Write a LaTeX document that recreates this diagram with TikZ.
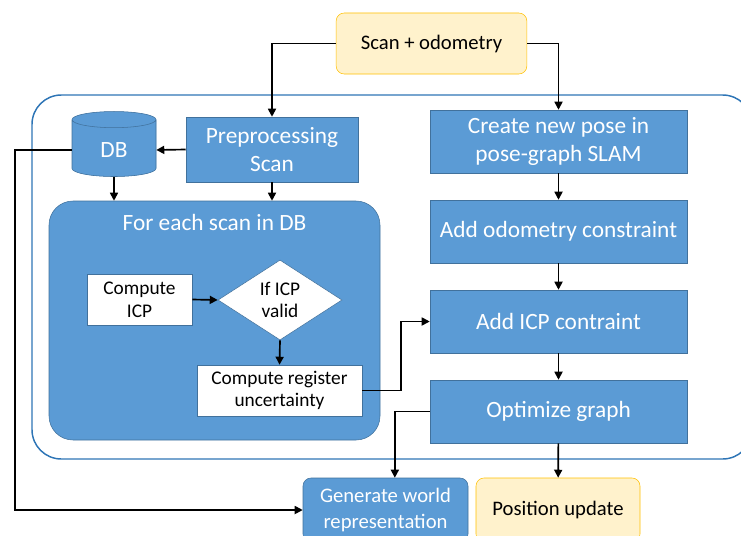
\documentclass[tikz,border=0pt]{standalone}
\usepackage{fontspec}
\setmainfont{Carlito}
\usepackage{tikz}
\usetikzlibrary{arrows.meta,positioning,shapes,calc}
\definecolor{boxblue}{HTML}{5B9BD5}
\definecolor{boxedge}{HTML}{41719C}
\definecolor{frameblue}{HTML}{2E75B6}
\definecolor{dbtop}{HTML}{9DC3E6}
\definecolor{ioyellow}{HTML}{FFF2CC}
\definecolor{ioedge}{HTML}{FFC000}
\tikzset{%
  process/.style={%
    rectangle,
    draw=boxedge,
    fill=boxblue,
    text=white,
    align=center,
    font=\fontsize{17.5}{20.5}\selectfont
  }
}
\tikzset{%
  io/.style={%
    rectangle,
    rounded corners=6pt,
    draw=ioedge,
    fill=ioyellow,
    align=center,
    font=\fontsize{15.5}{19}\selectfont
  }
}
\tikzset{%
  inner step/.style={%
    rectangle,
    draw=boxedge,
    fill=white,
    align=center,
    font=\fontsize{14.5}{17}\selectfont
  }
}
\tikzset{%
  flow/.style={%
    line width=1.25pt,
    -{Triangle[length=6pt,width=6pt]}
  }
}

\begin{document}
\begin{tikzpicture}[x=0.75pt,y=-0.75pt]
  \useasboundingbox (0,0) rectangle (741,535);
  \node (frame) [rectangle, rounded corners=22pt, draw=frameblue, line width=1.1pt,
    minimum width=540pt, minimum height=273pt] at (392,277) {};
  \node (scan) [io, minimum width=143pt, minimum height=45.75pt] at (431.5,43.5) {Scan + odometry};
  \node (db) [cylinder, shape border rotate=90, aspect=0.45, draw=boxedge, fill=boxblue,
    cylinder uses custom fill, cylinder body fill=boxblue, cylinder end fill=dbtop,
    text=white, font=\fontsize{17.5}{20.5}\selectfont,
    minimum width=63pt, minimum height=48.75pt] at (114,150) {DB};
  \node (pre) [process, minimum width=129pt, minimum height=48.75pt] at (272,149.5) {Preprocessing\\Scan};
  \node (pose) [process, minimum width=192.75pt, minimum height=47.25pt] at (558.5,141.5) {Create new pose in\\pose-graph SLAM};
  \node (odom) [process, minimum width=192.75pt, minimum height=47.25pt] at (558.5,231.5) {Add odometry constraint};
  \node (icpc) [process, minimum width=192.75pt, minimum height=47.25pt] at (558.5,321.5) {Add ICP contraint};
  \node (opt) [process, minimum width=192.75pt, minimum height=47.25pt] at (558.5,411.5) {Optimize graph};
  \node (loop) [rectangle, rounded corners=18pt, draw=boxedge, fill=boxblue,
    minimum width=248.25pt, minimum height=179.25pt,
    label={[anchor=north, text=white, font=\fontsize{17.5}{20.5}\selectfont, yshift=-7pt]north:For each scan in DB}] at (214.5,320.5) {};
  \node (icp) [inner step, minimum width=78.75pt, minimum height=38.25pt] at (139.5,299.5) {Compute\\ICP};
  \node (valid) [diamond, draw=boxedge, fill=white, inner sep=0pt, align=center,
    font=\fontsize{14.5}{17}\selectfont,
    minimum width=93pt, minimum height=60pt] at (280,300) {If ICP\\valid};
  \node (reg) [inner step, minimum width=123.75pt, minimum height=38.25pt] at (279.5,390.5) {Compute register\\uncertainty};
  \node (world) [process, rounded corners=6pt, font=\fontsize{15.5}{19}\selectfont,
    minimum width=123.75pt, minimum height=48pt] at (385.5,510) {Generate world\\representation};
  \node (pos) [io, minimum width=123pt, minimum height=48pt] at (558,510) {Position update};
  \coordinate (rail) at (15,0);
  % main flow
  \draw [flow] (scan.west) -| (pre.north);
  \draw [flow] (scan.east) -| (pose.north);
  \draw [flow] (pre.west) -- (db.east);
  \draw [flow] (db.south) -- (db.south |- loop.north);
  \draw [flow] (pre.south) -- (pre.south |- loop.north);
  \draw [flow] (pose) -- (odom);
  \draw [flow] (odom) -- (icpc);
  \draw [flow] (icpc) -- (opt);
  \draw [flow] (opt) -- (pos);
  % inside the loop
  \draw [flow] (icp.east) -- (valid.west);
  \draw [flow] (valid.south) -- (reg.north);
  \draw [flow] (reg.east) -- ++(39,0) |- (icpc.west);
  % outputs
  \draw [flow] (opt.west) -| ([xshift=7pt]world.north);
  \draw [flow] (db.west) -- (db.west -| rail) |- (world.west);
\end{tikzpicture}
\end{document}
